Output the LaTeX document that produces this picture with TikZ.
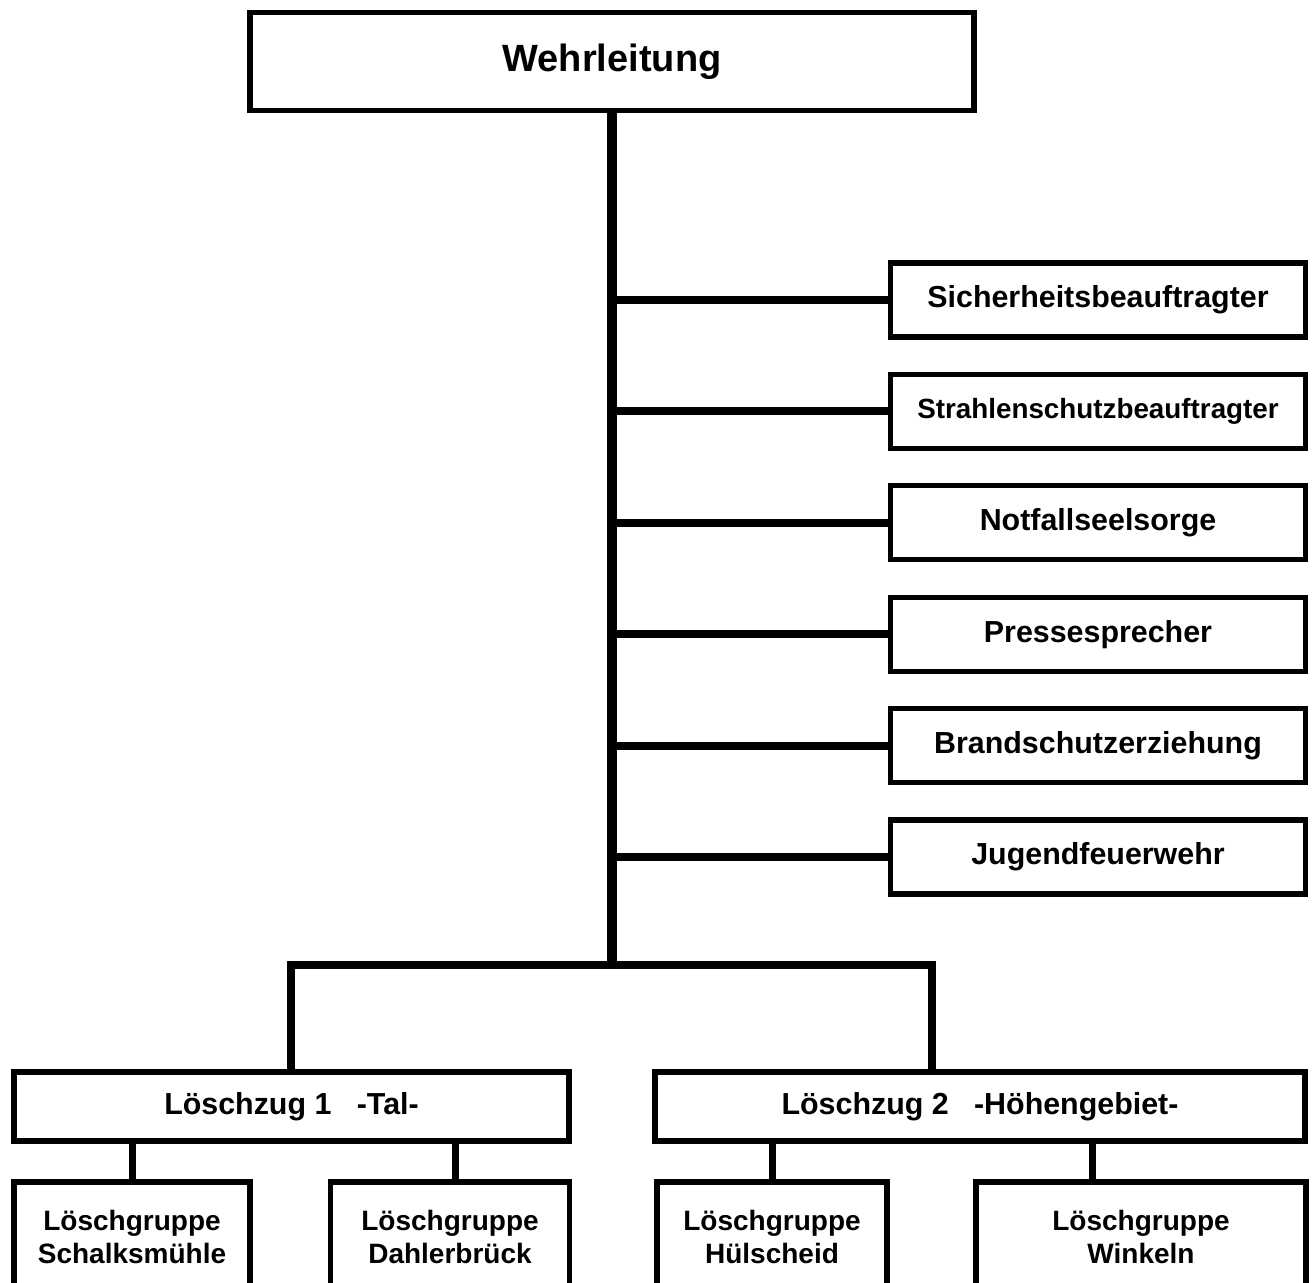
\documentclass[tikz,border=0pt]{standalone}
\usepackage{fontspec}
\setmainfont{Liberation Sans}
\usetikzlibrary{positioning,calc}

\begin{document}
\begin{tikzpicture}[
    x=0.5pt, y=-0.5pt,
    box/.style={draw, line width=2.6pt, fill=white, align=center, inner sep=0pt},
    side/.style={box, minimum width=207.5pt, minimum height=37pt, font=\fontsize{15.2}{18}\selectfont\bfseries},
    zug/.style={box, minimum height=34.5pt, font=\fontsize{15.2}{18}\selectfont\bfseries},
    gruppe/.style={box, minimum height=55pt, font=\fontsize{14}{16.5}\selectfont\bfseries},
    trunk/.style={line width=4.8pt},
    branch/.style={line width=4pt},
    link/.style={line width=3.5pt}
]
\useasboundingbox (0,0) rectangle (1312,1282);

% Wehrleitung
\node[box, minimum width=362pt, minimum height=49pt, font=\fontsize{19}{22}\selectfont\bfseries] (wl) at (612,61.5) {Wehrleitung};

% Stabsstellen - right column
\node[side] (sib) at (1098,300) {Sicherheitsbeauftragter};
\node[side, font=\fontsize{13.9}{16}\selectfont\bfseries] (ssb) at (1098,411.4) {Strahlenschutzbeauftragter};
\node[side] (nfs) at (1098,522.8) {Notfallseelsorge};
\node[side] (pres) at (1098,634.2) {Pressesprecher};
\node[side] (bse) at (1098,745.6) {Brandschutzerziehung};
\node[side] (jf) at (1098,857) {Jugendfeuerwehr};

% Loeschzuege
\node[zug, minimum width=277.5pt] (lz1) at (291.5,1106.5) {L\"oschzug 1\ \ \ -Tal-};
\node[zug, minimum width=325pt] (lz2) at (980,1106.5) {L\"oschzug 2\ \ \ -H\"ohengebiet-};

% Loeschgruppen - cut off at the bottom
\node[gruppe, minimum width=118pt] (lg1) at (132,1237) {L\"oschgruppe\\Schalksm\"uhle};
\node[gruppe, minimum width=119.5pt] (lg2) at (450,1237) {L\"oschgruppe\\Dahlerbr\"uck};
\node[gruppe, minimum width=115pt] (lg3) at (772,1237) {L\"oschgruppe\\H\"ulscheid};
\node[gruppe, minimum width=165pt] (lg4) at (1141,1237) {L\"oschgruppe\\Winkeln};

% Trunk and bus
\coordinate (bus) at (612,965);
\coordinate (bl) at (291,965);
\coordinate (br) at (932,965);
\draw[trunk] (wl.south) -- (bus);
\draw[branch] (lz1.north -| bl) -- (bl) -- (br) -- (lz2.north -| br);

% Branches to the right column
\draw[branch] (sib.west -| bus) -- (sib.west);
\draw[branch] (ssb.west -| bus) -- (ssb.west);
\draw[branch] (nfs.west -| bus) -- (nfs.west);
\draw[branch] (pres.west -| bus) -- (pres.west);
\draw[branch] (bse.west -| bus) -- (bse.west);
\draw[branch] (jf.west -| bus) -- (jf.west);

% Links to the Loeschgruppen
\coordinate (k2) at (455,1180);
\coordinate (k4) at (1092,1180);
\draw[link] (lz1.south -| lg1.north) -- (lg1.north);
\draw[link] (lz1.south -| k2) -- (k2);
\draw[link] (lz2.south -| lg3.north) -- (lg3.north);
\draw[link] (lz2.south -| k4) -- (k4);

\end{tikzpicture}
\end{document}
